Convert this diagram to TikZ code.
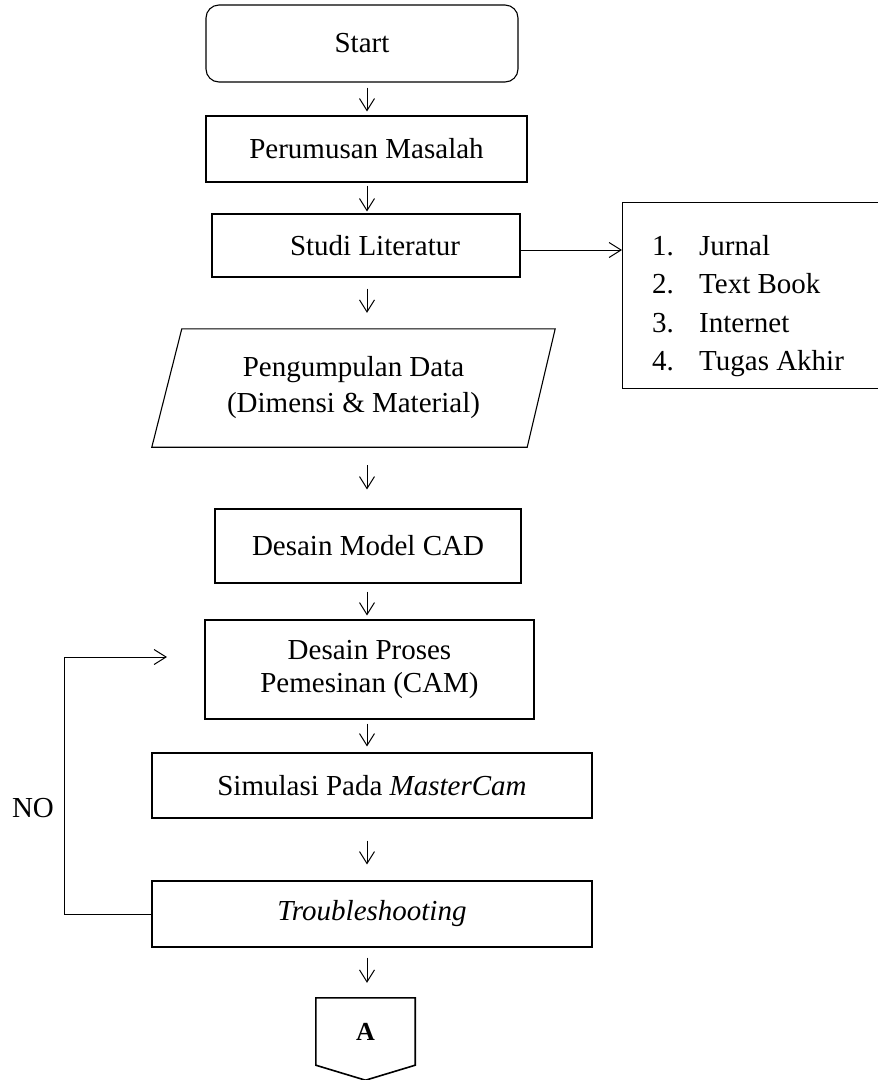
\documentclass[tikz,border=0pt]{standalone}
\usepackage{fontspec}
\setmainfont{Liberation Serif}
\usetikzlibrary{arrows.meta}
\begin{document}
\begin{tikzpicture}[x=1pt,y=-1pt,
  txt/.style={inner sep=0pt, align=center, font=\fontsize{29}{36}\selectfont},
  box/.style={txt, draw, line width=1.1pt},
  arr/.style={-{Straight Barb[length=12pt,width=15pt,line width=1pt]}, line width=1pt},
  lbl/.style={inner sep=0pt, anchor=base west, font=\fontsize{29}{36}\selectfont}
]
\useasboundingbox (0,0) rectangle (878,1080);
\fill[white] (0,0) rectangle (878,1080);
\coordinate (ax) at (367,0);

\node[box, rounded corners=13pt, minimum width=312pt, minimum height=77pt] (start) at (362,43.5) {Start};
\node[box, minimum width=321pt, minimum height=66pt] (perum) at (366.5,149) {Perumusan Masalah};
\node[box, minimum width=308pt, minimum height=63pt] (studi) at (366,245.5) {\hspace*{18pt}Studi Literatur};
\node[txt, minimum width=403pt, minimum height=118pt] (data) at (353.5,388) {Pengumpulan Data\\(Dimensi \& Material)};
\draw[line width=1.1pt] ([xshift=30pt]data.north west) -- (data.north east) -- ([xshift=-28pt]data.south east) -- (data.south west) -- cycle;
\node[box, minimum width=306pt, minimum height=74pt] (cad) at (368,546) {Desain Model CAD};
\node[box, minimum width=329pt, minimum height=99pt, font=\fontsize{29}{33}\selectfont] (cam) at (369.5,669.5) {Desain Proses\\Pemesinan (CAM)};
\node[box, minimum width=440pt, minimum height=65pt] (sim) at (372,785.5) {Simulasi Pada \textit{MasterCam}};
\node[box, minimum width=440pt, minimum height=66pt] (trb) at (372,914) {\textit{Troubleshooting}};
\node[inner sep=0pt, minimum width=99pt, minimum height=67pt, font=\fontsize{26}{30}\selectfont\bfseries] (A) at (365.5,1031.5) {A};
\draw[line width=1.6pt] (A.south west) -- (A.north west) -- (A.north east) -- (A.south east) -- ([yshift=-15pt]A.south) -- cycle;

\node[draw, line width=1pt, inner sep=0pt, minimum width=300pt, minimum height=186pt, anchor=north west] (lst) at (622,202) {};
\node[lbl] (n1) at (652,255) {1.};
\node[lbl] (t1) at (699,255) {Jurnal};
\node[lbl] (n2) at (652,293) {2.};
\node[lbl] (t2) at (699,293) {Text Book};
\node[lbl] (n3) at (652,332) {3.};
\node[lbl] (t3) at (699,332) {Internet};
\node[lbl] (n4) at (652,370) {4.};
\node[lbl] (t4) at (699,370) {Tugas Akhir};

\node[txt] (no) at (33,808) {NO};

\draw[arr, shorten <=5pt, shorten >=4pt] (start.south -| ax) -- (perum.north -| ax);
\draw[arr, shorten <=3pt, shorten >=2pt] (perum.south -| ax) -- (studi.north -| ax);
\draw[arr, shorten <=11pt, shorten >=16pt] (studi.south -| ax) -- (data.north -| ax);
\draw[arr, shorten <=18pt, shorten >=19pt] (data.south -| ax) -- (cad.north -| ax);
\draw[arr, shorten <=8pt, shorten >=4pt] (cad.south -| ax) -- (cam.north -| ax);
\draw[arr, shorten <=4pt, shorten >=6pt] (cam.south -| ax) -- (sim.north -| ax);
\draw[arr, shorten <=22pt, shorten >=16pt] (sim.south -| ax) -- (trb.north -| ax);
\draw[arr, shorten <=10pt, shorten >=15pt] (trb.south -| ax) -- (A.north -| ax);

\coordinate (sl) at (0,250);
\draw[arr] (studi.east |- sl) -- (lst.west |- sl);

\coordinate (lp1) at (64,914);
\coordinate (lp2) at (64,657);
\coordinate (lpe) at (167,657);
\draw[arr] (trb.west) -- (lp1) -- (lp2) -- (lpe);
\end{tikzpicture}
\end{document}
